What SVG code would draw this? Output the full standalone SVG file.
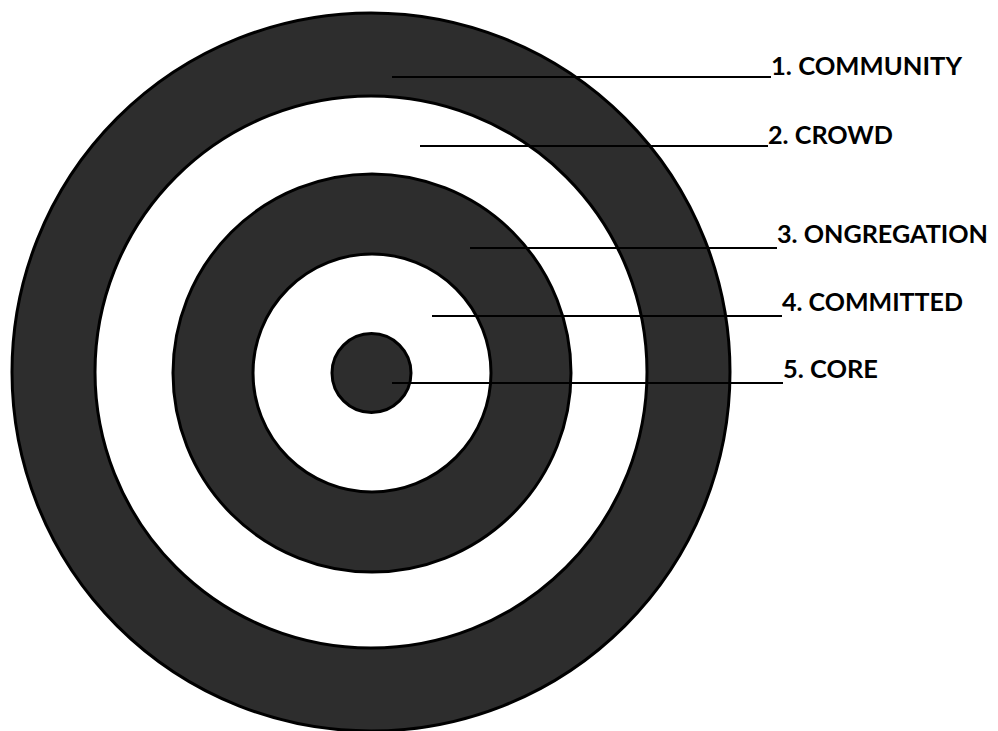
<svg xmlns="http://www.w3.org/2000/svg" width="998" height="731" viewBox="0 0 998 731">
<style>
.dark{fill:#2d2d2d;stroke:#000;stroke-width:3}
.light{fill:#fff;stroke:#000;stroke-width:3}
.lead{stroke:#000;stroke-width:2;fill:none}
.lbl{font-family:Lato,"Open Sans","Liberation Sans",sans-serif;font-weight:bold;font-size:25px;fill:#000}
</style>
<rect width="998" height="731" fill="#fff"/>
<g id="ring1"><circle class="dark" cx="371" cy="372" r="359"/></g>
<g id="ring2"><circle class="light" cx="371" cy="372" r="276"/></g>
<g id="ring3"><circle class="dark" cx="372" cy="373" r="199"/></g>
<g id="ring4"><circle class="light" cx="372" cy="373" r="119"/></g>
<g id="ring5"><circle class="dark" cx="371.5" cy="373" r="39.5"/></g>
<g id="connectors">
<line class="lead" x1="392" y1="77" x2="771" y2="77"/>
<line class="lead" x1="420" y1="146" x2="768" y2="146"/>
<line class="lead" x1="470" y1="248" x2="777" y2="248"/>
<line class="lead" x1="432" y1="316" x2="782" y2="316"/>
<line class="lead" x1="392" y1="383" x2="783" y2="383"/>
</g>
<g id="label1"><text class="lbl" x="771" y="75" textLength="191" lengthAdjust="spacingAndGlyphs">1. COMMUNITY</text></g>
<g id="label2"><text class="lbl" x="768" y="144" textLength="125" lengthAdjust="spacingAndGlyphs">2. CROWD</text></g>
<g id="label3"><text class="lbl" x="777" y="243" textLength="211" lengthAdjust="spacingAndGlyphs">3. ONGREGATION</text></g>
<g id="label4"><text class="lbl" x="782" y="311" textLength="181" lengthAdjust="spacingAndGlyphs">4. COMMITTED</text></g>
<g id="label5"><text class="lbl" x="783" y="378" textLength="95" lengthAdjust="spacingAndGlyphs">5. CORE</text></g>
</svg>
